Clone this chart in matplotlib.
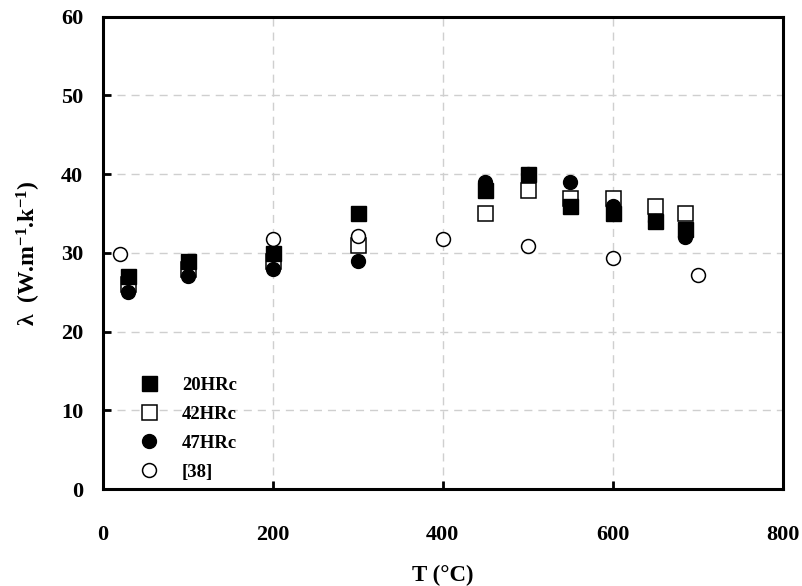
import matplotlib
matplotlib.use("Agg")
import matplotlib.pyplot as plt

plt.rcParams['font.family'] = ['Liberation Serif', 'DejaVu Serif']
plt.rcParams['font.weight'] = 'bold'
plt.rcParams['mathtext.fontset'] = 'custom'
plt.rcParams['mathtext.rm'] = 'Liberation Serif:bold'
plt.rcParams['mathtext.bf'] = 'Liberation Serif:bold'
plt.rcParams['mathtext.it'] = 'Liberation Serif:bold'

# Data
T_20 = [30, 100, 200, 300, 450, 500, 550, 600, 650, 685]
lam_20 = [27, 29, 30, 35, 38, 40, 36, 35, 34, 33]

T_42 = [30, 100, 200, 300, 450, 500, 550, 600, 650, 685]
lam_42 = [26, 28, 29, 31, 35, 38, 37, 37, 36, 35]

T_47 = [30, 100, 200, 300, 450, 500, 550, 600, 650, 685]
lam_47 = [25, 27, 28, 29, 39, 40, 39, 36, 34, 32]

T_38 = [20, 200, 300, 400, 500, 600, 700]
lam_38 = [29.9, 31.8, 32.1, 31.8, 30.9, 29.4, 27.2]

x_ticks = [0, 200, 400, 600, 800]
y_ticks = [0, 10, 20, 30, 40, 50, 60]

fig = plt.figure(figsize=(8.03, 5.86), dpi=100)
ax = fig.add_axes([0.128, 0.1655, 0.847, 0.806])

ms_sq = 10.8
ms_ci = 10.0
ax.plot(T_42, lam_42, 's', ms=ms_sq, mfc='white', mec='black', mew=1.1, ls='none', zorder=3, label='42HRc')
ax.plot(T_20, lam_20, 's', ms=ms_sq, mfc='black', mec='black', mew=1.0, ls='none', zorder=4, label='20HRc')
ax.plot(T_47, lam_47, 'o', ms=ms_ci, mfc='black', mec='black', mew=1.0, ls='none', zorder=5, label='47HRc')
ax.plot(T_38, lam_38, 'o', ms=ms_ci, mfc='white', mec='black', mew=1.1, ls='none', zorder=6, label='[38]')

ax.set_xlim(0, 800)
ax.set_ylim(0, 60)
ax.set_xticks(x_ticks)
ax.set_yticks(y_ticks)

ax.grid(True, color='#cfcfcf', linestyle=(0, (5.8, 4.3)), linewidth=1.0, zorder=0)
ax.set_axisbelow(True)

for s in ax.spines.values():
    s.set_linewidth(2.2)
    s.set_zorder(7)

ax.tick_params(axis='both', direction='in', length=5.5, width=2.0, labelsize=16)
ax.tick_params(axis='x', pad=26)
ax.tick_params(axis='y', pad=14)
ax.tick_params(top=False, right=False)

ax.set_xlabel('T (°C)', fontsize=16.5, fontweight='bold')
ax.xaxis.set_label_coords(0.5, -0.16)
ax.set_ylabel(r'λ  (W.m$^{-1}$.k$^{-1}$)', fontsize=17, fontweight='bold')
ax.yaxis.set_label_coords(-0.088, 0.5)

handles, labels = ax.get_legend_handles_labels()
order = [1, 0, 2, 3]
leg = ax.legend([handles[i] for i in order], [labels[i] for i in order],
                loc='lower left', bbox_to_anchor=(0.035, -0.01), frameon=False,
                fontsize=13.5, handlelength=1.0, handletextpad=1.25, labelspacing=0.63,
                borderaxespad=0.3)

fig.savefig('out.png', dpi=100)
